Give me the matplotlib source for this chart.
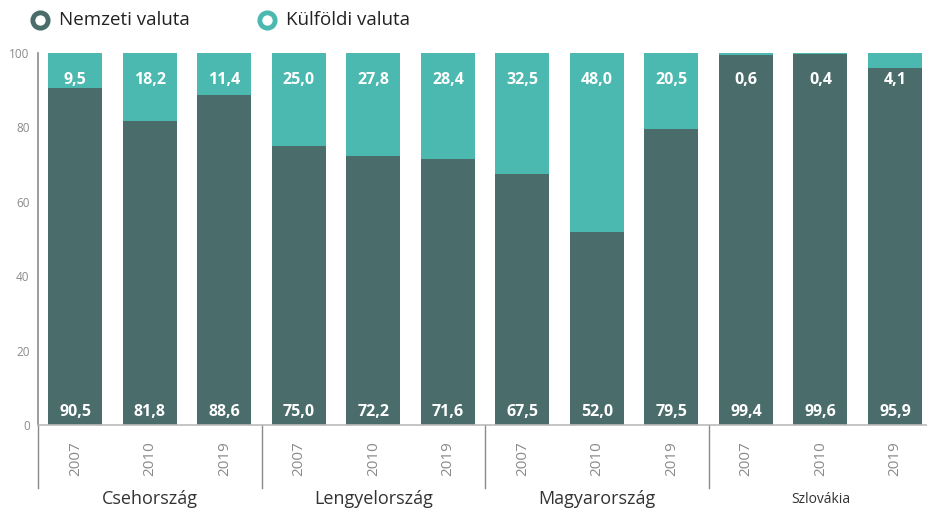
import numpy as np
import matplotlib.pyplot as plt
from matplotlib.lines import Line2D

# Adatok
countries = ['Csehország', 'Lengyelország', 'Magyarország', 'Szlovákia']
years = ['2007', '2010', '2019']
nemzeti = [90.5, 81.8, 88.6, 75.0, 72.2, 71.6, 67.5, 52.0, 79.5, 99.4, 99.6, 95.9]
kulfoldi = [9.5, 18.2, 11.4, 25.0, 27.8, 28.4, 32.5, 48.0, 20.5, 0.6, 0.4, 4.1]

dark = '#4a6d6c'
light = '#4bb9b0'
grey = '#8a8a8a'

plt.rcParams['font.family'] = ['Open Sans', 'DejaVu Sans']

fig = plt.figure(figsize=(9.27, 5.13), dpi=100)
ax = fig.add_axes([38 / 927, 88 / 513, 889 / 927, 372 / 513])

x = np.arange(len(nemzeti))
w = 0.725
ax.bar(x, nemzeti, width=w, color=dark, zorder=2)
ax.bar(x, kulfoldi, width=w, bottom=nemzeti, color=light, zorder=2)

for i in range(len(x)):
    ax.text(x[i], 3.5, f'{nemzeti[i]:.1f}'.replace('.', ','), ha='center', va='center',
            color='white', fontsize=11.5, fontweight='bold', zorder=3)
    ax.text(x[i], 92.7, f'{kulfoldi[i]:.1f}'.replace('.', ','), ha='center', va='center',
            color='white', fontsize=11.5, fontweight='bold', zorder=3)

ax.set_xlim(-0.5, 11.43)
ax.set_ylim(0, 100)
ax.set_yticks([0, 20, 40, 60, 80, 100])
ax.tick_params(axis='y', length=0, labelsize=8.5, labelcolor=grey, pad=6)
ax.set_xticks([])
for s in ['top', 'right']:
    ax.spines[s].set_visible(False)
ax.spines['left'].set_color(grey)
ax.spines['bottom'].set_color('#bbbbbb')
ax.spines['left'].set_linewidth(1.2)
ax.spines['bottom'].set_linewidth(1.2)

# évek és országok az x tengely alatt
trans = ax.get_xaxis_transform()
for i in range(len(x)):
    ax.text(x[i], -0.09, years[i % 3], rotation=90, ha='center', va='center',
            color=grey, fontsize=11, transform=trans)
for g in range(4):
    ax.plot([g * 3 - 0.5, g * 3 - 0.5], [0, -0.17], color=grey, lw=1,
            transform=trans, clip_on=False)
    ax.text(g * 3 + 1, -0.2, countries[g], ha='center', va='center', color='#333333',
            fontsize=10 if g == 3 else 13, transform=trans)

# jelmagyarázat
for xp, col, lab in [(40, dark, 'Nemzeti valuta'), (267, light, 'Külföldi valuta')]:
    fig.add_artist(Line2D([xp / 927], [1 - 20 / 513], marker='o', markersize=11,
                          markerfacecolor='white', markeredgecolor=col, markeredgewidth=3.5,
                          transform=fig.transFigure))
    fig.text((xp + 19) / 927, 1 - 20 / 513, lab, ha='left', va='center', fontsize=13.5,
             color='#222222')

plt.savefig('out.png')
